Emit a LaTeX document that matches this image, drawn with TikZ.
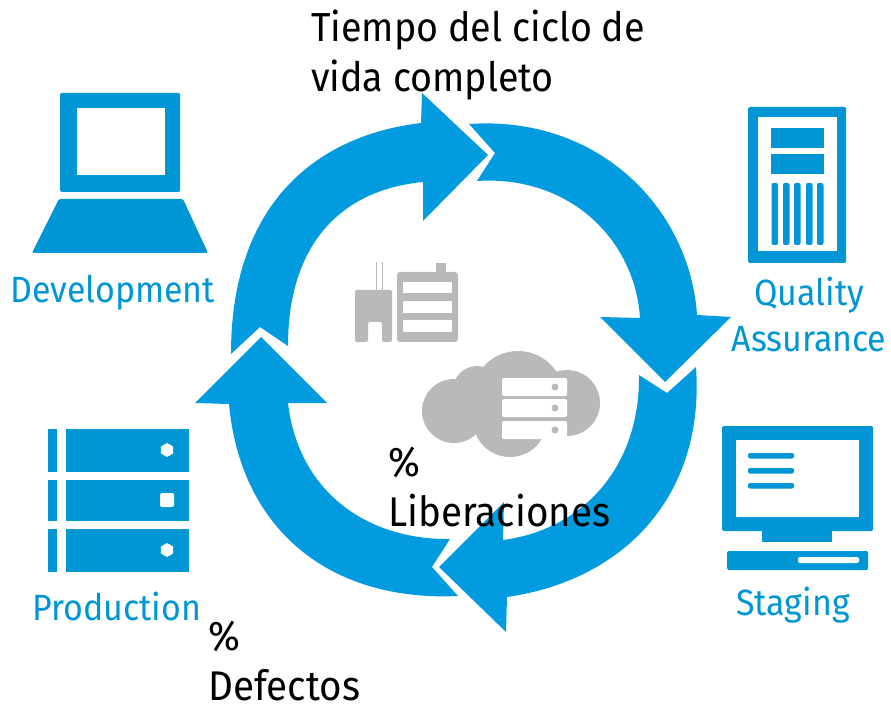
\documentclass[tikz,border=0pt]{standalone}
\usepackage{fontspec}
\setmainfont[FakeStretch=0.93]{Fira Sans}
\definecolor{hpblue}{RGB}{0,150,214}
\definecolor{cycleblue}{RGB}{3,155,224}
\definecolor{icongrey}{RGB}{185,185,187}
\tikzset{
    %Define style for the cycle arrows
    cycle/.style={fill=cycleblue},
    %Define style for icons
    icon/.style={fill=hpblue, rounded corners=1.5pt},
    hole/.style={fill=white},
    grey/.style={fill=icongrey},
    %Define style for labels
    stage/.style={
           text=hpblue,
           inner sep=0pt,
           align=center,
           font=\fontsize{36.5}{46}\selectfont},
    metric/.style={
           text=black,
           inner sep=0pt,
           align=left,
           anchor=north west,
           font=\fontsize{40.5}{50}\selectfont},
    bigmetric/.style={
           metric,
           font=\fontsize{41.5}{50}\selectfont}
}
\begin{document}
\begin{tikzpicture}[x=1pt,y=-1pt]
\useasboundingbox (0,0) rectangle (891,708);
% cycle arrows
\fill[cycle] (231,354) -- (260,327) -- (288,346)
	.. controls (288,245) and (340,190) .. (423,182)
	-- (423,221) -- (488,155) -- (422,93) -- (421,123)
	.. controls (320,135) and (231,200) .. (231,354) -- cycle;
\fill[cycle] (469,124) -- (495,153) -- (477,181)
	.. controls (570,175) and (635,240) .. (640,318)
	-- (600,317) -- (665,382) -- (731,317) -- (697,315)
	.. controls (690,210) and (600,115) .. (469,124) -- cycle;
\fill[cycle] (696,367) -- (667,393) -- (639,375)
	.. controls (640,470) and (580,530) .. (503,540)
	-- (504,502) -- (439,567) -- (506,632) -- (507,597)
	.. controls (625,580) and (705,495) .. (696,367) -- cycle;
\fill[cycle] (450,539) -- (432,567) -- (458,596)
	.. controls (325,602) and (240,525) .. (229,404)
	-- (195,403) -- (261,337) -- (327,403) -- (288,403)
	.. controls (298,490) and (365,540) .. (450,539) -- cycle;
% laptop
\fill[icon] (60,93) rectangle (180,192);
\fill[hole] (77,108) rectangle (165,175);
\fill[icon] (59,199) -- (183,199) -- (208,253) -- (32,253) -- cycle;
% tower
\fill[icon] (748,107) rectangle (846,263);
\fill[hole] (758,117) rectangle (837,251);
\fill[hpblue] (771,128) rectangle (824,148);
\fill[hpblue] (771,154) rectangle (824,174);
\foreach \x in {771.5,783,794,806,817}
	\fill[hpblue, rounded corners=2pt] (\x,183) rectangle (\x+6.5,245);
% monitor
\fill[icon] (722,426) rectangle (873,531);
\fill[hole] (736,440) rectangle (859,517);
\foreach \y in {453,468,483}
	\fill[hpblue, rounded corners=2pt] (748,\y) rectangle (794,\y+5.5);
\fill[hpblue] (762,530) rectangle (832,542);
\fill[icon] (727,551) rectangle (868,570);
\fill[hole, rounded corners=2pt] (798,557) rectangle (859,563);
% rack
\foreach \top/\bot in {429/472,480/521,529/572}{
	\fill[hpblue] (48,\top) rectangle (57,\bot);
	\fill[hpblue] (66,\top) rectangle (189,\bot);
}
\fill[hole] (167,450) +(90:7) -- +(150:7) -- +(210:7) -- +(270:7) -- +(330:7) -- +(30:7) -- cycle;
\fill[hole, rounded corners=2pt] (160,493) rectangle (174,507);
\fill[hole] (167,550) +(90:7) -- +(150:7) -- +(210:7) -- +(270:7) -- +(330:7) -- +(30:7) -- cycle;
% plant and battery
\draw[icongrey, line width=1pt] (376,262) -- (376,290);
\draw[icongrey, line width=1pt] (382,262) -- (382,290);
\fill[grey, rounded corners=2pt] (355,290) -- (392,290) -- (392,342) -- (382,342) -- (382,322) -- (368,322) -- (368,342) -- (355,342) -- cycle;
\fill[grey] (436,263) rectangle (446,274);
\fill[grey, rounded corners=3pt] (397,272) rectangle (458,342);
\foreach \top/\bot in {282/293,301/313,320/332}
	\fill[hole] (403,\top) rectangle (452,\bot);
% cloud
\fill[grey] (454,411) circle (32) (477,390) circle (24) (518,397) circle (46)
	(567,403) circle (33) (510,420) circle (37);
\foreach \top/\bot in {378/396,399/417,421/439}{
	\fill[hole, rounded corners=2pt] (502,\top) rectangle (567,\bot);
	\fill[grey] (555,{(\top+\bot)/2}) circle (3.5);
}
% labels
\node[stage, anchor=base west] (dev) at (10,303) {Development};
\node[stage, anchor=base] (qa) at (809,306) {Quality};
\node[stage, anchor=base] (assurance) at (809,352) {Assurance};
\node[stage, anchor=base west] (staging) at (736,615) {Staging};
\node[stage, anchor=base west] (prod) at (32,620) {Production};
\node[metric] (leadtime) at (311,10) {Tiempo del ciclo de\\vida completo};
\node[bigmetric] (releases) at (388,447) {\%\\Liberaciones};
\node[bigmetric] (defects) at (208,621) {\%\\Defectos};
\end{tikzpicture}
\end{document}
